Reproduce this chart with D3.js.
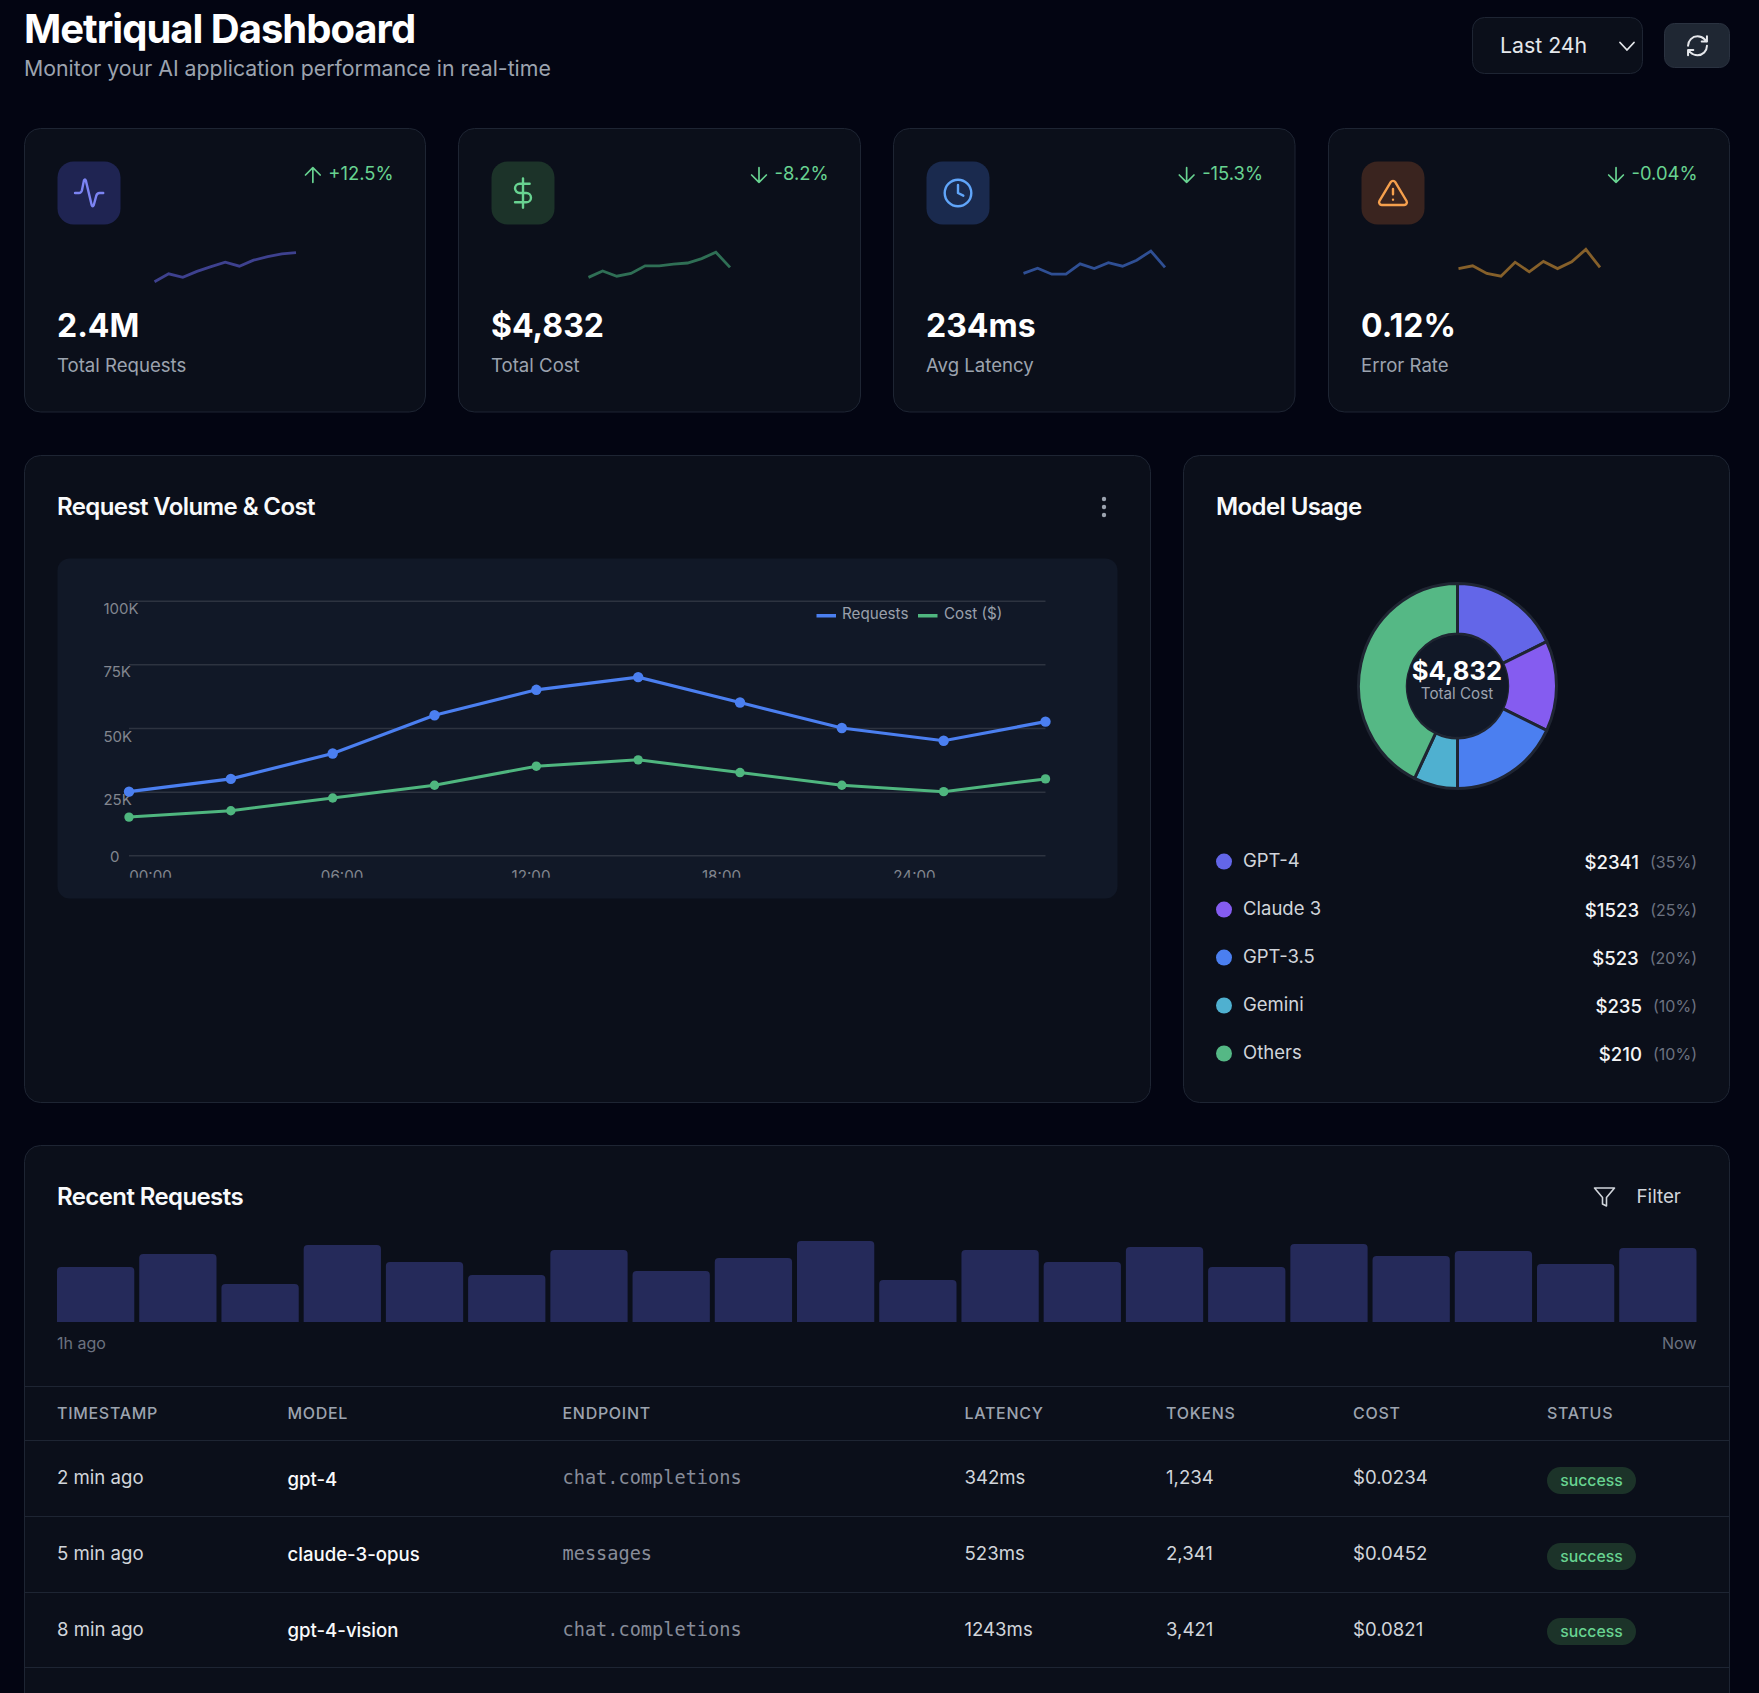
<!DOCTYPE html>
<html><head><meta charset="utf-8">
<script src="https://cdn.jsdelivr.net/npm/d3@7"></script>
<style>
html,body{margin:0;padding:0;background:#030512;overflow:hidden}
svg{display:block}
text{font-family:Inter,'Noto Sans',sans-serif}
</style></head><body>
<svg id="c" width="1759" height="1693"></svg>
<script>
// ---------- data ----------
const metricTitles = ["Total Requests","Total Cost","Avg Latency","Error Rate"];
const metricValues = ["2.4M","$4,832","234ms","0.12%"];
const metricChanges = ["+12.5%","-8.2%","-15.3%","-0.04%"];
const sparkRequests = [8,28,19,34,46,57,47,62,71,78,81];
const sparkCost = [19,35,22,29,48,48,52,55,66,82,44];
const sparkLatency = [29,42,27,27,53,41,56,47,62,85,44];
const sparkErrors = [41,48,29,22,57,33,59,41,58,89,44];
const hours = [0,1,2,3,4,5,6,7,8,9];
const requestVolume = [25000,30000,40000,55000,65000,70000,60000,50000,45000,52500];
const costVolume = [15000,17500,22500,27500,35000,37500,32500,27500,25000,30000];
const yTicks = [0,25000,50000,75000,100000];
const yTickLabels = ["0","25K","50K","75K","100K"];
const xTickLabels = ["00:00","06:00","12:00","18:00","24:00"];
const modelNames = ["GPT-4","Claude 3","GPT-3.5","Gemini","Others"];
const modelShares = [25,20,25,10,60];
const modelCosts = ["$2341","$1523","$523","$235","$210"];
const modelPercents = ["(35%)","(25%)","(20%)","(10%)","(10%)"];
const recentBars = [55,68,38,77,60,47,72,51,64,81,42,72,60,75,55,78,66,71,58,74];
const tableHeaders = ["Timestamp","Model","Endpoint","Latency","Tokens","Cost","Status"];
const rowTimes = ["2 min ago","5 min ago","8 min ago"];
const rowModels = ["gpt-4","claude-3-opus","gpt-4-vision"];
const rowEndpoints = ["chat.completions","messages","chat.completions"];
const rowLatency = ["342ms","523ms","1243ms"];
const rowTokens = ["1,234","2,341","3,421"];
const rowCost = ["$0.0234","$0.0452","$0.0821"];
const rowStatus = ["success","success","success"];

// ---------- style ----------
const BORDER="#1e2533", CARD="#0b0f1a", PANEL="#111827";
const BLUE="#4b7ff0", GREEN="#4fb67f";
const donutColors=["#6366e8","#855cf0",BLUE,"#4fb0d0","#55b885"];
const svg=d3.select("#c");
const label=(g,x,y,t,o={})=>g.append("text").attr("x",x).attr("y",y).attr("dy",".36em")
  .attr("font-size",o.size||16).attr("font-weight",o.weight||400).attr("fill",o.fill||"#9ca3af")
  .attr("text-anchor",o.anchor||"start").attr("letter-spacing",o.ls||null)
  .style("font-family",o.family||null).text(t);
const box=(g,x,y,w,h,r,fill,stroke)=>g.append("rect").attr("x",x+.5).attr("y",y+.5).attr("width",w-1).attr("height",h-1).attr("rx",r)
  .attr("fill",fill).attr("stroke",stroke||"none");
const icon=(g,cx,cy,s,d,color,sw=2)=>g.append("path").attr("transform",`translate(${cx-12*s},${cy-12*s}) scale(${s})`)
  .attr("d",d).attr("fill","none").attr("stroke",color).attr("stroke-width",sw/s).attr("stroke-linecap","round").attr("stroke-linejoin","round");

// ---------- header ----------
label(svg,24,29,"Metriqual Dashboard",{size:40,weight:700,fill:"#fff",ls:"-1px"});
label(svg,24,68,"Monitor your AI application performance in real-time",{size:21.3,fill:"#9ca3af"});
box(svg,1472,17,171,57,12,CARD,BORDER);
label(svg,1500,45.5,"Last 24h",{size:21.3,fill:"#e5e7eb"});
icon(svg,1627,45,1,"M19 9 L12 16.5 L5 9","#e5e7eb",1.8).attr("transform","translate(1615,33.5) scale(1)");
box(svg,1664,23,66,45,10,"#1f2733","#2a3240");
icon(svg,1697.5,45.8,1.05,"M3 12a9 9 0 0 1 9-9 9.75 9.75 0 0 1 6.74 2.74L21 8M21 3v5h-5M21 12a9 9 0 0 1-9 9 9.75 9.75 0 0 1-6.74-2.74L3 16M8 16H3v5","#e5e7eb",2);

// ---------- metric cards ----------
const cardX=[24,458,893,1328];
const cardW=[402,403,402.5,402];
const sparks=[sparkRequests,sparkCost,sparkLatency,sparkErrors];
const iconFill=["#1f2452","#1c3329","#1a2a4e","#3a241f"];
const iconStroke=["#7c84f3","#68d391","#60a5fa","#f6a04d"];
const sparkStroke=["#3e418f","#2f6f55","#2f4f94","#86602a"];
const iconPaths=[
 "M1.5 12H4.5Q6 12 6.7 10L8.2 2.5Q9 1 9.6 2.5L14 21Q14.8 23 15.6 21L17.5 14Q18 12 20 12H22.7",
 "M12 1v22M17 5H9.5a3.5 3.5 0 0 0 0 7h5a3.5 3.5 0 0 1 0 7H6",
 "M12 2a10 10 0 1 0 0 20a10 10 0 1 0 0-20M12 6v6l4 2",
 "M10.29 3.86L1.82 18a2 2 0 0 0 1.71 3h16.94a2 2 0 0 0 1.71-3L13.71 3.86a2 2 0 0 0-3.42 0zM12 9v4M12 17h.01"];
const sparkY=d3.scaleLinear().domain([0,100]).range([285,245]);
cardX.forEach((x,i)=>{
  const g=svg.append("g");
  box(g,x,128,cardW[i],284.5,16,CARD,BORDER);
  box(g,x+33,161,64,64,16,iconFill[i]);
  icon(g,x+65,193,1.33,iconPaths[i],iconStroke[i],2.4);
  const ch=label(g,x+cardW[i]-32.5,173.5,metricChanges[i],{size:18.4,anchor:"end",fill:"#68d391"});
  const tw=ch.node().getComputedTextLength();
  icon(g,x+cardW[i]-32.5-tw-15.5,175,1.05,i==0?"M12 19V5M5 12l7-7 7 7":"M12 5v14M19 12l-7 7-7-7","#68d391",1.7);
  const sx=d3.scaleLinear().domain([0,10]).range([x+130.5,x+272]);
  g.append("path").attr("d",d3.line().x((d,j)=>sx(j)).y(d=>sparkY(d))(sparks[i]))
    .attr("fill","none").attr("stroke",sparkStroke[i]).attr("stroke-width",2.8);
  label(g,x+33,325,metricValues[i],{size:32,weight:700,fill:"#fff"});
  label(g,x+33,365,metricTitles[i],{size:18.6,fill:"#9ca3af"});
});

// ---------- line chart card ----------
const lc=svg.append("g");
box(lc,24,455,1127,648,16,CARD,BORDER);
label(lc,57,506,"Request Volume & Cost",{size:24,weight:600,fill:"#f9fafb",ls:"-0.6px"});
[499,507,515].forEach(y=>lc.append("circle").attr("cx",1104).attr("cy",y).attr("r",2.2).attr("fill","#9ca3af"));
box(lc,57,558,1061,341,12,PANEL);
const xLine=d3.scalePoint().domain(hours).range([129,1045.5]);
const yLine=d3.scaleLinear().domain([0,100000]).range([855.3,600.7]);
const xLabel=d3.scaleOrdinal().domain(xTickLabels).range([150,341.6,530.5,721,914]);
svg.append("defs").append("clipPath").attr("id","clipX").append("rect").attr("x",57).attr("y",560).attr("width",1061).attr("height",317.7);
const yAxis=lc.append("g").attr("transform","translate(129,0)")
  .call(d3.axisLeft(yLine).tickValues(yTicks).tickSize(-916.5).tickFormat((d,i)=>yTickLabels[i]));
yAxis.select(".domain").remove();
yAxis.selectAll("line").attr("stroke","#2d3340").attr("stroke-width",1.5);
const yTickShift=[1,8.5,8.5,7.5,7.5];
yAxis.selectAll("text").attr("font-size",15).attr("fill","#82868f").attr("text-anchor","start")
  .attr("x",-25.6).attr("y",(d,i)=>yTickShift[i]).attr("dy",".32em").style("font-family","Inter");
yAxis.selectAll("text").filter(d=>d===0).attr("x",-19);
const xAxisWrap=lc.append("g").attr("clip-path","url(#clipX)");
const xAxis=xAxisWrap.append("g").attr("transform","translate(0,855.3)")
  .call(d3.axisBottom(xLabel).tickSize(0));
xAxis.select(".domain").remove();
xAxis.selectAll("text").attr("font-size",15.2).attr("fill","#82868f").attr("y",15.5).attr("dy",".71em").style("font-family","Inter");
[[requestVolume,BLUE,5.2,3.2],[costVolume,GREEN,4.7,3]].forEach(([vals,col,r,sw])=>{
  lc.append("path").attr("d",d3.line().x((d,i)=>xLine(i)).y(d=>yLine(d))(vals))
    .attr("fill","none").attr("stroke",col).attr("stroke-width",sw);
  lc.selectAll(null).data(vals).join("circle").attr("cx",(d,i)=>xLine(i)).attr("cy",d=>yLine(d)).attr("r",r).attr("fill",col);
});
lc.append("rect").attr("x",816.5).attr("y",614).attr("width",19.5).attr("height",3.5).attr("fill",BLUE);
label(lc,842,613.5,"Requests",{size:15.2,fill:"#9aa0ab"});
lc.append("rect").attr("x",918).attr("y",614).attr("width",19.5).attr("height",3.5).attr("fill",GREEN);
label(lc,944,613.5,"Cost ($)",{size:15.2,fill:"#9aa0ab"});

// ---------- model usage ----------
const mu=svg.append("g");
box(mu,1183,455,547,648,16,CARD,BORDER);
label(mu,1216,506.5,"Model Usage",{size:24,weight:600,fill:"#f9fafb",ls:"-0.6px"});
const donut=mu.append("g").attr("transform","translate(1457.5,686)");
const arcs=d3.pie().sort(null).value(d=>d)(modelShares);
const arc=d3.arc().innerRadius(51).outerRadius(100.5);
donut.append("g").attr("transform","scale(.985,1.02)").selectAll("path").data(arcs).join("path").attr("d",arc).attr("fill",(d,i)=>donutColors[i])
  .attr("stroke","#1f2532").attr("stroke-width",3);
donut.append("circle").attr("r",50.5).attr("fill",PANEL);
label(donut,-.5,-15,"$4,832",{size:25.6,weight:700,fill:"#fff",anchor:"middle"});
label(donut,-.5,7.5,"Total Cost",{size:15.2,fill:"#9ca3af",anchor:"middle"});
const legendY=d3.scalePoint().domain(modelNames).range([861.6,1053.5]);
modelNames.forEach((m,i)=>{
  const y=legendY(m);
  mu.append("circle").attr("cx",1224).attr("cy",y).attr("r",8).attr("fill",donutColors[i]);
  label(mu,1243,y-1.5,m,{size:18.5,fill:"#d1d5db"});
  const p=label(mu,1697,y+1,modelPercents[i],{size:16,fill:"#6b7280",anchor:"end"});
  const w=p.node().getComputedTextLength();
  label(mu,1697-w-11,y+1,modelCosts[i],{size:18.6,weight:500,fill:"#f3f4f6",anchor:"end"});
});

// ---------- recent requests ----------
const rr=svg.append("g");
rr.append("rect").attr("x",24.5).attr("y",1145.5).attr("width",1705).attr("height",700).attr("rx",16).attr("fill",CARD).attr("stroke",BORDER);
label(rr,57,1196.5,"Recent Requests",{size:24,weight:600,fill:"#f9fafb",ls:"-0.6px"});
icon(rr,1604.5,1197,1,"M22 3H2l8 9.46V19l4 2v-8.54L22 3z","#d1d5db",1.6);
label(rr,1636.5,1196.5,"Filter",{size:18.8,fill:"#d1d5db"});
const xBar=d3.scaleBand().domain(d3.range(recentBars.length)).range([57,1696.5]).paddingInner(.06);
const yBar=d3.scaleLinear().domain([0,100]).range([1322,1222]);
rr.selectAll(null).data(recentBars).join("path").attr("fill","#252a5a").attr("d",(d,i)=>{
  const x0=xBar(i),x1=x0+xBar.bandwidth(),t=yBar(d),b=yBar(0),r=4;
  return `M${x0},${b}V${t+r}Q${x0},${t} ${x0+r},${t}H${x1-r}Q${x1},${t} ${x1},${t+r}V${b}Z`;
});
label(rr,57,1343.5,"1h ago",{size:16,fill:"#6b7280"});
label(rr,1696.5,1343.5,"Now",{size:16,fill:"#6b7280",anchor:"end"});
[1386.5,1440.5,1516.5,1592.5,1667.5].forEach(y=>rr.append("line").attr("x1",25).attr("x2",1729).attr("y1",y).attr("y2",y).attr("stroke",BORDER));
const colX=[57,287.5,562.5,964.5,1166,1353,1547];
tableHeaders.forEach((h,i)=>label(rr,colX[i],1413.5,h.toUpperCase(),{size:16,weight:500,fill:"#9ca3af",ls:"0.7px"}));
const rowY=[1477.3,1553.5,1629.3], badgeY=[1467,1543,1618], modelY=[1479,1554,1630], statusY=[1480.5,1556,1631.5];
rowTimes.forEach((t,r)=>{
  const y=rowY[r];
  label(rr,colX[0],y,t,{size:18.6,fill:"#d1d5db"});
  label(rr,colX[1],modelY[r],rowModels[r],{size:18.6,weight:500,fill:"#f9fafb"});
  label(rr,colX[2],y,rowEndpoints[r],{size:18.6,fill:"#878c99",family:"'DejaVu Sans Mono',monospace",ls:"0px"});
  label(rr,colX[3],y,rowLatency[r],{size:18.6,fill:"#d1d5db"});
  label(rr,colX[4],y,rowTokens[r],{size:18.6,fill:"#d1d5db"});
  label(rr,colX[5],y,rowCost[r],{size:18.6,fill:"#d1d5db"});
  rr.append("rect").attr("x",colX[6]).attr("y",badgeY[r]).attr("width",89).attr("height",27).attr("rx",13.5).attr("fill","#1c3329");
  label(rr,colX[6]+44.5,statusY[r],rowStatus[r],{size:15.8,weight:500,fill:"#68d391",anchor:"middle"});
});
</script>
</body></html>
